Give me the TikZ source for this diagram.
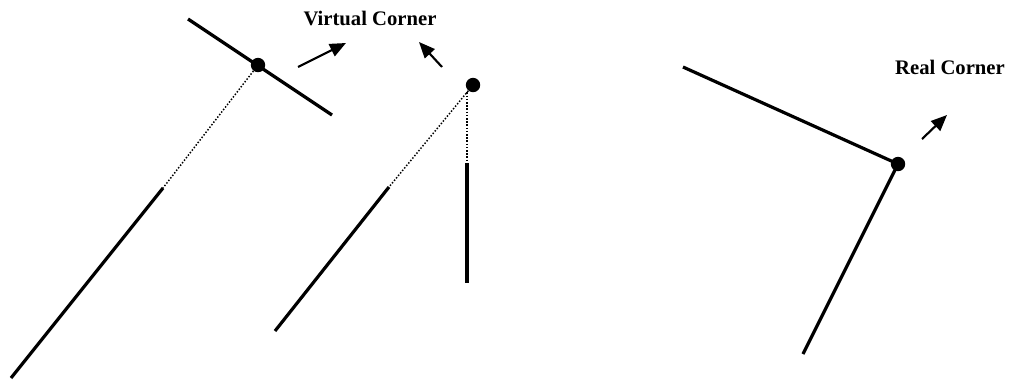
\documentclass[tikz,border=0pt]{standalone}
\usepackage{fontspec}
\setmainfont{Liberation Serif}
\usetikzlibrary{arrows.meta}
\tikzset{
  edge/.style={line width=2.4pt},
  ghost/.style={line width=1.1pt,dash pattern=on 1.1pt off 1.3pt},
  corner/.style={circle,fill=black,inner sep=0pt,minimum size=10.8pt},
  cue/.style={-{Triangle[length=12pt,width=10pt]},line width=1.6pt},
  caption/.style={font=\fontsize{15.5}{18}\selectfont\bfseries,inner sep=0pt},
}

\begin{document}
\begin{tikzpicture}[x=0.75pt,y=-0.75pt]
    \useasboundingbox (0,0) rectangle (1013,383);
    % virtual corner where the two lines cross
    \node[corner] (vx) at (258,65) {};
    \coordinate (vxa) at (188,19);
    \coordinate (vxb) at (332,115);
    \coordinate (vxc) at (163,188);
    \coordinate (vxd) at (11,378);
    \draw[edge] (vxa) -- (vxb);
    \draw[ghost] (vx) -- (vxc);
    \draw[edge] (vxc) -- (vxd);

    \node[caption] (vlabel) at (370,18) {Virtual Corner};
    \coordinate (c1a) at (298,67);
    \coordinate (c1b) at (346,43);
    \draw[cue] (c1a) -- (c1b);
    \coordinate (c2a) at (442,67);
    \coordinate (c2b) at (419,42);
    \draw[cue] (c2a) -- (c2b);

    % virtual corner where the two lines would meet
    \node[corner] (mx) at (473,85) {};
    \coordinate (mxc) at (389,187);
    \coordinate (mxd) at (275,331);
    \coordinate (mv) at (467,163);
    \coordinate (mw) at (467,283);
    \draw[ghost] (mx) -- (mxc);
    \draw[edge] (mxc) -- (mxd);
    \draw[ghost] (mx.south -| mv) -- (mv);
    \draw[edge] (mv) -- (mw);

    % real corner
    \node[corner] (rx) at (898,164) {};
    \coordinate (rxa) at (683,67);
    \coordinate (rxb) at (803,354);
    \draw[edge] (rxa) -- (rx.center);
    \draw[edge] (rx.center) -- (rxb);

    \node[caption] (rlabel) at (950,67) {Real Corner};
    \coordinate (c3a) at (922,139);
    \coordinate (c3b) at (947,115);
    \draw[cue] (c3a) -- (c3b);
  \end{tikzpicture}
\end{document}
